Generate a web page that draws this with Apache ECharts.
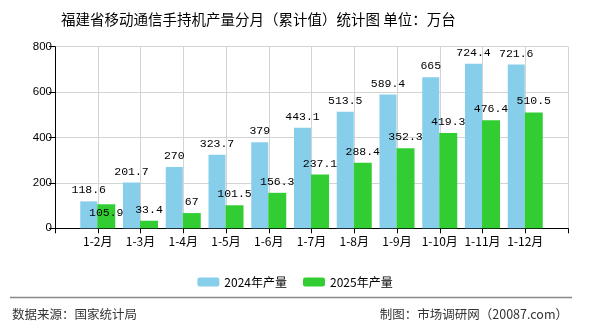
<!DOCTYPE html>
<html><head><meta charset="utf-8">
<script src="https://cdn.jsdelivr.net/npm/echarts@6/dist/echarts.min.js"></script>
<style>html,body{margin:0;padding:0;background:#fff}#c{width:590px;height:330px}</style>
</head><body><div id="c"></div>
<script>
var categories = ["1-2月","1-3月","1-4月","1-5月","1-6月","1-7月","1-8月","1-9月","1-10月","1-11月","1-12月"];
var values2024 = [118.6,201.7,270,323.7,379,443.1,513.5,589.4,665,724.4,721.6];
var values2025 = [105.9,33.4,67,101.5,156.3,237.1,288.4,352.3,419.3,476.4,510.5];
var yTicks = [0,200,400,600,800];
var seriesNames = ["2024年产量","2025年产量"];

var cats = [""].concat(categories).concat([""]);
function pad(arr){ return [null].concat(arr).concat([null]); }
var d2025 = pad(values2025).map(function(v,i){
  if (i === 1) return {value: v, label: {offset: [0, 20]}};
  return v;
});
var chart = echarts.init(document.getElementById('c'));
var labelFont = {show:true, position:'top', distance:5, color:'#000', fontSize:11.5, fontFamily:'Liberation Mono, DejaVu Sans Mono, monospace'};
chart.setOption({
  animation:false,
  title:{text:'福建省移动通信手持机产量分月（累计值）统计图 单位：万台', left:56, top:7,
    textStyle:{fontSize:14.5, fontWeight:'normal', color:'#000', fontFamily:'Noto Sans CJK SC'}},
  legend:{data:seriesNames, left:'center', top:271, itemWidth:22, itemHeight:9, itemGap:16,
    textStyle:{fontSize:12, color:'#000', fontFamily:'Noto Sans CJK SC'}},
  grid:{left:55, right:22, top:46.7, bottom:101.7, containLabel:false},
  xAxis:{type:'category', data:cats, boundaryGap:false,
    axisLine:{lineStyle:{color:'#000'}}, axisTick:{show:true, length:5, lineStyle:{color:'#000'}},
    axisLabel:{interval:0, color:'#000', fontSize:12, margin:7, fontFamily:'Noto Sans CJK SC'},
    splitLine:{show:true, lineStyle:{color:'#d3d3d3'}}},
  yAxis:{type:'value', min:yTicks[0], max:yTicks[yTicks.length-1], interval:200,
    axisLine:{show:true, lineStyle:{color:'#000'}}, axisTick:{show:true, length:6, lineStyle:{color:'#000'}},
    axisLabel:{color:'#000', fontSize:11.5, margin:3, fontFamily:'Liberation Sans, Arial'},
    splitLine:{show:true, lineStyle:{color:'#d3d3d3'}}},
  series:[
    {name:seriesNames[0], type:'bar', data:pad(values2024), barWidth:17, barGap:'0%',
     itemStyle:{color:'#87CEEB'}, label:labelFont},
    {name:seriesNames[1], type:'bar', data:d2025, barWidth:18, barGap:'0%',
     itemStyle:{color:'#32CD32'}, label:labelFont}
  ],
  graphic:[
    {type:'line', shape:{x1:10, y1:297.5, x2:572, y2:297.5}, style:{stroke:'#888', lineWidth:1.5}},
    {type:'text', left:12, top:308, style:{text:'数据来源：国家统计局', fontSize:12.5, fill:'#333', fontFamily:'Noto Sans CJK SC'}},
    {type:'text', right:22, top:308, style:{text:'制图：市场调研网（20087.com）', fontSize:12.5, fill:'#333', fontFamily:'Noto Sans CJK SC'}}
  ]
});
</script></body></html>
